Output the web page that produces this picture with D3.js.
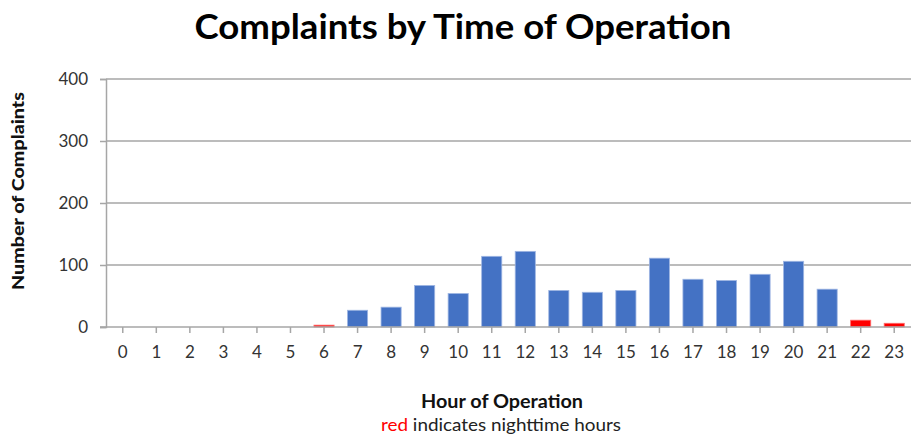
<!DOCTYPE html>
<html>
<head>
<meta charset="utf-8">
<script src="https://cdn.jsdelivr.net/npm/d3@7"></script>
<style>
  body { margin: 0; background: #fff; }
  text { font-family: Lato, "Open Sans", sans-serif; }
</style>
</head>
<body>
<div id="chart"></div>
<script>
const width = 912;
const height = 435;

// hours 0..23 and complaint counts
const hours = d3.range(0, 24).map(String);
const complaints = [0, 0, 0, 0, 0, 0, 3, 27, 32, 67, 54, 114, 122, 59, 56, 59, 111, 77, 75, 85, 106, 61, 11, 6];
const nightHours = ["6", "22", "23"];
const yTicks = [0, 100, 200, 300, 400];

const margin = { top: 79, right: 1, bottom: 108, left: 106 };

const svg = d3.select("#chart")
  .append("svg")
  .attr("width", width)
  .attr("height", height);

const x = d3.scaleBand()
  .domain(hours)
  .range([margin.left, width - margin.right])
  .paddingInner(0.4)
  .paddingOuter(0.2);

const y = d3.scaleLinear()
  .domain([0, 400])
  .range([height - margin.bottom, margin.top]);

const gridColor = "#a6a6a6";

// gridlines
svg.append("g")
  .selectAll("line")
  .data(yTicks.filter(d => d > 0))
  .enter().append("line")
  .attr("x1", margin.left)
  .attr("x2", width - margin.right)
  .attr("y1", d => y(d))
  .attr("y2", d => y(d))
  .style("stroke", gridColor)
  .style("stroke-width", 1.5);

// bars
svg.append("g")
  .selectAll("rect")
  .data(hours)
  .enter().append("rect")
  .attr("x", d => x(d))
  .attr("width", x.bandwidth())
  .attr("y", (d, i) => y(complaints[i]))
  .attr("height", (d, i) => y(0) - y(complaints[i]))
  .style("fill", d => nightHours.includes(d) ? "#ff0000" : "#4472c4")
  .style("stroke", d => nightHours.includes(d) ? "#ff6b6b" : "#9fb6e3")
  .style("stroke-width", 0.8);

// y axis
const yAxis = d3.axisLeft(y)
  .tickValues(yTicks)
  .tickSize(6)
  .tickPadding(12);

const gy = svg.append("g")
  .attr("transform", `translate(${margin.left},0)`)
  .call(yAxis);
gy.select(".domain").style("stroke", gridColor).style("stroke-width", 1.5);
gy.selectAll(".tick line").style("stroke", gridColor).style("stroke-width", 1.5);
gy.selectAll(".tick text")
  .style("font-size", "17px")
  .style("fill", "#333");

// x axis, ticks at category centres
const xAxis = d3.axisBottom(x)
  .tickSize(6)
  .tickSizeOuter(0)
  .tickPadding(13);

const gx = svg.append("g")
  .attr("transform", `translate(0,${y(0)})`)
  .call(xAxis);
gx.select(".domain")
  .attr("d", `M${margin.left - 6},0H${width - margin.right}`)
  .style("stroke", gridColor).style("stroke-width", 1.5);
gx.selectAll(".tick line").style("stroke", gridColor).style("stroke-width", 1.5);
gx.selectAll(".tick text")
  .style("font-size", "17px")
  .style("fill", "#333");

// title
svg.append("text")
  .attr("x", 463)
  .attr("y", 39)
  .attr("text-anchor", "middle")
  .attr("textLength", 537)
  .attr("lengthAdjust", "spacingAndGlyphs")
  .style("font-size", "34px")
  .style("font-weight", "bold")
  .style("fill", "#000")
  .text("Complaints by Time of Operation");

// y axis title
svg.append("text")
  .attr("transform", "translate(24,191) rotate(-90)")
  .attr("text-anchor", "middle")
  .attr("textLength", 198)
  .attr("lengthAdjust", "spacingAndGlyphs")
  .style("font-size", "17px")
  .style("font-weight", "900")
  .style("fill", "#111")
  .text("Number of Complaints");

// x axis title
svg.append("text")
  .attr("x", 502)
  .attr("y", 408)
  .attr("text-anchor", "middle")
  .attr("textLength", 162)
  .attr("lengthAdjust", "spacingAndGlyphs")
  .style("font-size", "19px")
  .style("font-weight", "bold")
  .style("fill", "#111")
  .text("Hour of Operation");

const note = svg.append("text")
  .attr("x", 501)
  .attr("y", 431)
  .attr("text-anchor", "middle")
  .attr("textLength", 240)
  .attr("lengthAdjust", "spacingAndGlyphs")
  .style("font-size", "17px")
  .style("fill", "#222");
note.append("tspan")
  .style("fill", "#ff0000")
  .text("red");
note.append("tspan").text(" indicates nighttime hours");
</script>
</body>
</html>
